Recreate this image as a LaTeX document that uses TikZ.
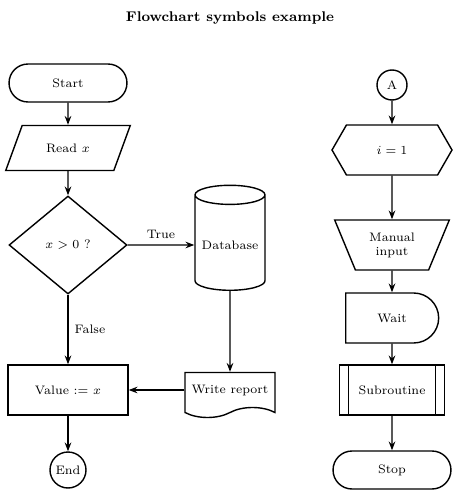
\documentclass[tikz,border=0pt]{standalone}
\usepackage{amsmath}
\usepackage{tikz}
\usetikzlibrary{
	arrows.meta,
	shapes.geometric,
	shapes.misc,
	shapes.symbols
}

\tikzset{
	box/.style={draw, thick, font=\scriptsize, inner sep=2pt, align=center},
	term/.style={box, rounded rectangle, minimum width=2.5cm, minimum height=0.76cm},
	io/.style={box, trapezium, trapezium left angle=60, trapezium right angle=120,
		trapezium stretches=true, minimum width=2.5cm, minimum height=0.9cm},
	dec/.style={box, diamond, inner sep=0pt, minimum width=2.36cm, minimum height=1.96cm},
	store/.style={box, cylinder, shape border rotate=90, aspect=0.3,
		minimum width=1.4cm, minimum height=2.1cm},
	doc/.style={box, tape, tape bend top=none, tape bend height=0.2cm,
		minimum width=1.8cm, minimum height=0.9cm},
	proc/.style={box, rectangle, minimum width=2.4cm, minimum height=1cm},
	pred/.style={box, rectangle, minimum width=2.1cm, minimum height=1cm,
		path picture={
			\draw ([xshift=0.18cm]path picture bounding box.north west) -- ([xshift=0.18cm]path picture bounding box.south west);
			\draw ([xshift=-0.18cm]path picture bounding box.north east) -- ([xshift=-0.18cm]path picture bounding box.south east);}},
	conn/.style={box, circle, minimum size=0.6cm, inner sep=0pt},
	endpt/.style={box, circle, minimum size=0.72cm, inner sep=0pt},
	prep/.style={box, signal, signal to=east and west, signal pointer angle=120,
		minimum width=2.4cm, minimum height=1cm},
	manual/.style={box, trapezium, shape border rotate=180, trapezium left angle=65,
		trapezium right angle=65, trapezium stretches=true, minimum width=2.3cm, minimum height=1cm},
	delay/.style={box, rounded rectangle, rounded rectangle left arc=none,
		minimum width=2cm, minimum height=1cm},
	flow/.style={thick, -{Stealth[length=5pt]}},
	lbl/.style={font=\scriptsize}
}

\begin{document}
\begin{tikzpicture}[x=0.02cm, y=-0.02cm]
		\useasboundingbox (0,0) rectangle (471,500);
		\node[font=\footnotesize\bfseries] (title) at (230,18) {Flowchart symbols example};
		\node[term] (start) at (68,83) {Start};
		\node[io] (read) at (68,148) {Read $x$};
		\node[dec] (check) at (68,245) {$x > 0$ ?};
		\node[store] (save) at (230,245) {Database};
		\node[proc] (set) at (68,390) {Value $:=$ $x$};
		\node[doc] (log) at (230,390) {Write report};
		\node[endpt] (stop) at (68,470) {End};
		\node[conn] (A) at (392,85) {A};
		\node[prep] (init) at (392,150) {$i = 1$};
		\node[manual] (check2) at (392,245) {Manual\\input};
		\node[delay] (wait) at (392,318) {Wait};
		\node[pred] (sub) at (392,390) {Subroutine};
		\node[term] (fin) at (392,470) {Stop};
		\foreach \a/\b in {start/read, read/check, save/log, set/stop, A/init, init/check2, check2/wait, wait/sub, sub/fin}
		\draw[flow] (\a) -- (\b);
		\draw[flow] (check) -- node[lbl, above] {True} (save);
		\draw[flow] (check) -- node[lbl, right] {False} (set);
		\draw[flow] (log.west) -- (set.east);
	\end{tikzpicture}
\end{document}
